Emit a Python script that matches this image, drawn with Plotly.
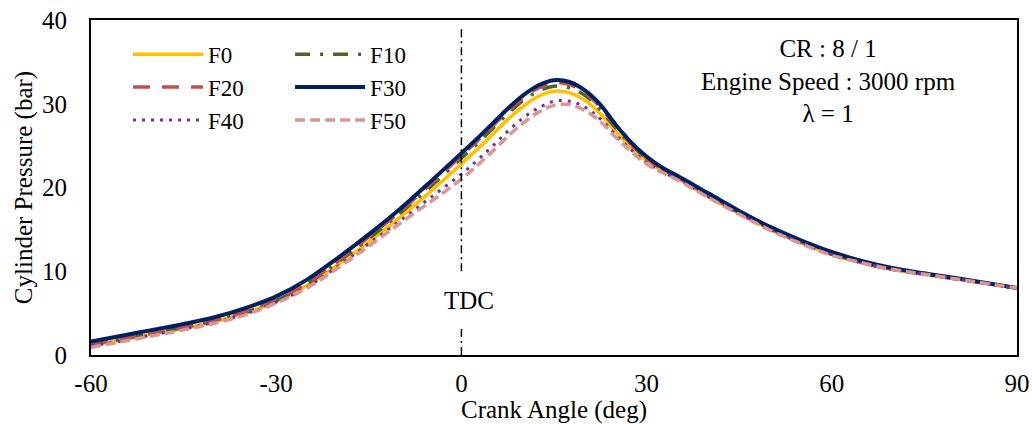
import plotly.graph_objects as go

# Crank angle (deg)
crank_angle = [-60, -55, -50, -45, -40, -35, -30, -25, -20, -15, -10, -5,
               0, 2.5, 5, 7.5, 10, 12.5, 15, 17.5, 20, 22.5, 25, 27.5, 30, 32.5, 35,
               40, 45, 50, 55, 60, 65, 70, 75, 80, 85, 90]

# Cylinder pressure (bar)
F0 = [1.2, 1.8, 2.5, 3.2, 4.0, 5.0, 6.4, 8.3, 10.8, 13.5, 16.4, 19.5,
      22.8, 24.5, 26.3, 28.1, 29.7, 30.9, 31.5, 31.3, 30.4, 28.8, 26.7, 24.8, 23.2, 22.0, 21.1,
      18.9, 16.9, 15.0, 13.4, 12.0, 11.0, 10.2, 9.65, 9.1, 8.55, 8.0]
F10 = [1.3, 1.9, 2.6, 3.3, 4.1, 5.1, 6.5, 8.5, 11.1, 13.9, 16.9, 20.1,
       23.5, 25.2, 27.0, 28.8, 30.4, 31.5, 32.1, 31.9, 31.0, 29.3, 27.1, 25.1, 23.5, 22.2, 21.2,
       19.1, 17.0, 15.1, 13.5, 12.1, 11.0, 10.2, 9.65, 9.1, 8.55, 8.0]
F20 = [1.2, 1.9, 2.6, 3.3, 4.1, 5.2, 6.6, 8.6, 11.2, 14.1, 17.1, 20.4,
       23.8, 25.5, 27.3, 29.1, 30.7, 31.9, 32.5, 32.3, 31.3, 29.6, 27.3, 25.2, 23.5, 22.2, 21.2,
       19.1, 17.0, 15.1, 13.5, 12.1, 11.0, 10.2, 9.65, 9.1, 8.55, 8.0]
F30 = [1.6, 2.3, 3.0, 3.7, 4.5, 5.6, 7.0, 9.0, 11.6, 14.4, 17.4, 20.7,
       24.1, 25.8, 27.6, 29.4, 31.0, 32.2, 32.8, 32.6, 31.6, 29.9, 27.5, 25.4, 23.7, 22.4, 21.4,
       19.3, 17.2, 15.3, 13.7, 12.3, 11.2, 10.35, 9.75, 9.2, 8.6, 8.0]
F40 = [1.1, 1.7, 2.4, 3.1, 3.9, 4.9, 6.3, 8.1, 10.6, 13.3, 16.0, 18.8,
       21.6, 23.2, 24.9, 26.7, 28.3, 29.5, 30.3, 30.3, 29.6, 28.2, 26.3, 24.5, 23.0, 21.9, 21.0,
       18.9, 16.9, 15.0, 13.4, 12.0, 11.0, 10.2, 9.65, 9.1, 8.55, 8.0]
F50 = [0.9, 1.6, 2.3, 3.0, 3.8, 4.8, 6.2, 8.0, 10.4, 13.0, 15.7, 18.3,
       21.0, 22.6, 24.3, 26.1, 27.7, 29.0, 29.8, 29.9, 29.2, 27.9, 26.0, 24.3, 22.8, 21.8, 20.9,
       18.8, 16.8, 14.9, 13.3, 11.9, 11.0, 10.2, 9.65, 9.1, 8.55, 8.0]

series_names = ["F0", "F10", "F20", "F30", "F40", "F50"]
x_ticks = [-60, -30, 0, 30, 60, 90]
x_tick_labels = ["-60", "-30", "0", "30", "60", "90"]
y_ticks = [0, 10, 20, 30, 40]
tdc_angle = 0

FONT = "Liberation Serif, Times New Roman, serif"

styles = {
    "F0": dict(color="#FFC000", width=3.5, dash="solid", legend="legend"),
    "F10": dict(color="#4F6228", width=3.5, dash="15px,10px,3px,10px", legend="legend2"),
    "F20": dict(color="#C0504D", width=3.5, dash="17px,12px", legend="legend"),
    "F30": dict(color="#002060", width=4, dash="solid", legend="legend2"),
    "F40": dict(color="#7030A0", width=3, dash="3px,6px", legend="legend"),
    "F50": dict(color="#DA9694", width=3.5, dash="10px,5px", legend="legend2"),
}
data = {"F0": F0, "F10": F10, "F20": F20, "F30": F30, "F40": F40, "F50": F50}

fig = go.Figure()
for name in series_names:
    s = styles[name]
    fig.add_trace(go.Scatter(
        x=crank_angle, y=data[name], mode="lines", name=name,
        line=dict(color=s["color"], width=s["width"], dash=s["dash"], shape="spline", smoothing=1.0),
        legend=s["legend"], legendgroup=name,
    ))

# TDC vertical line (dash-dot), interrupted by label
for y0, y1 in [(10.0, 39.2), (0, 3.3)]:
    fig.add_shape(type="line", xref="x", yref="y", x0=tdc_angle, x1=tdc_angle, y0=y0, y1=y1,
                  line=dict(color="black", width=1.5, dash="8px,4px,2px,4px"))

fig.add_annotation(x=tdc_angle, y=6.45, xref="x", yref="y", text="TDC", showarrow=False,
                   xshift=8, font=dict(family=FONT, size=25, color="black"))

fig.add_annotation(x=0.796, y=0.818, xref="paper", yref="paper",
                   text="CR : 8 / 1<br>Engine Speed : 3000 rpm<br>λ = 1",
                   showarrow=False, align="center", xanchor="center", yanchor="middle",
                   font=dict(family=FONT, size=25, color="black"))

legend_common = dict(font=dict(family=FONT, size=23, color="black"), bgcolor="rgba(0,0,0,0)",
                     xanchor="left", yanchor="top", tracegroupgap=0, itemwidth=70,
                     orientation="v")

fig.update_layout(
    width=1032, height=424,
    margin=dict(l=91, r=15, t=20, b=69),
    paper_bgcolor="white", plot_bgcolor="white",
    font=dict(family=FONT, size=24, color="black"),
    showlegend=True,
    legend=dict(x=0.04, y=0.962, **legend_common),
    legend2=dict(x=0.215, y=0.962, **legend_common),
    xaxis=dict(range=[-60, 90], tickvals=x_ticks, ticktext=x_tick_labels,
               showgrid=False, zeroline=False,
               showline=True, linecolor="black", linewidth=2, mirror=True,
               ticks="outside", ticklen=5, tickcolor="rgba(0,0,0,0)",
               tickfont=dict(family=FONT, size=25),
               title=dict(text="Crank Angle (deg)", standoff=0, font=dict(family=FONT, size=25)),
               automargin=False),
    yaxis=dict(range=[0, 40], tickvals=y_ticks, showgrid=False, zeroline=False,
               showline=True, linecolor="black", linewidth=2, mirror=True,
               ticks="outside", ticklen=17, tickcolor="rgba(0,0,0,0)",
               tickfont=dict(family=FONT, size=25),
               title=dict(text="Cylinder Pressure (bar)", standoff=2, font=dict(family=FONT, size=25)),
               automargin=False),
)

fig.write_html("out.html")
